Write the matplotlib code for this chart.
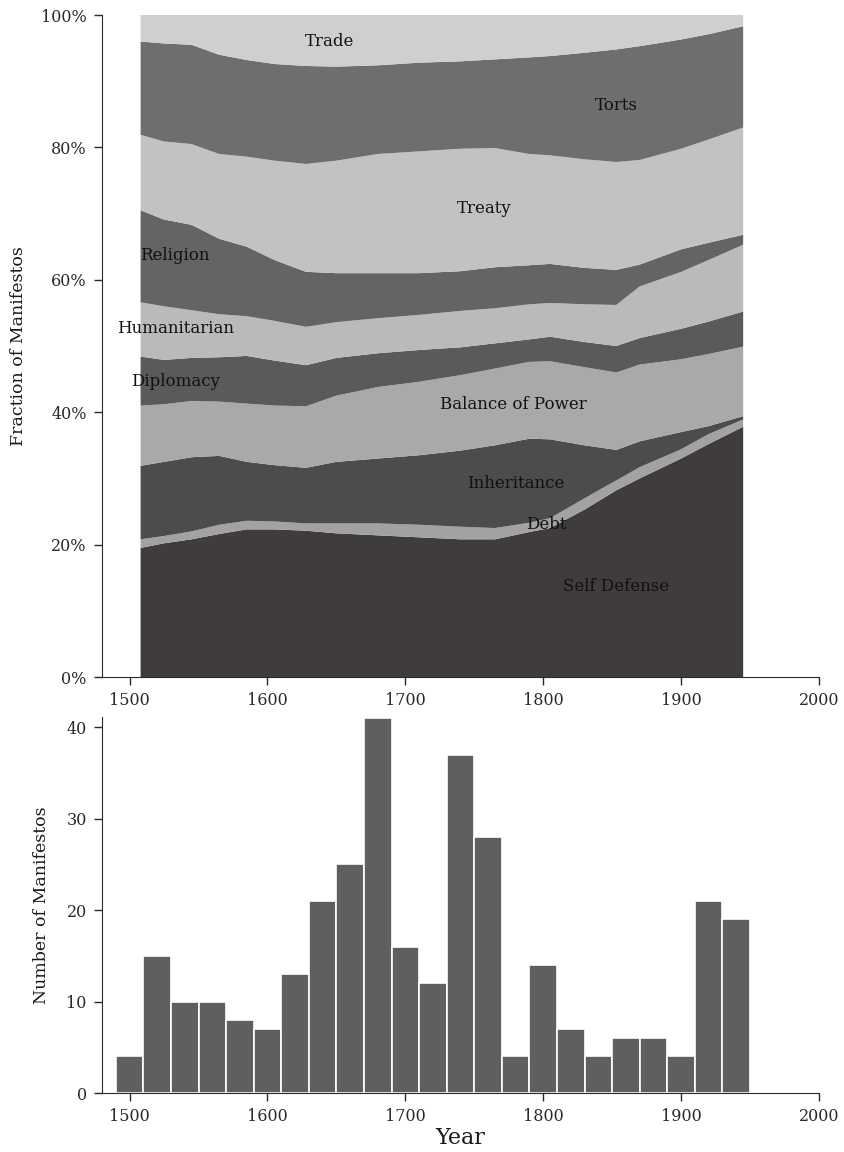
import numpy as np
import matplotlib.pyplot as plt
from matplotlib.ticker import FuncFormatter

plt.rcParams['font.family'] = ['DejaVu Serif']
plt.rcParams['axes.edgecolor'] = '#2a2a2a'
plt.rcParams['xtick.color'] = '#2a2a2a'
plt.rcParams['ytick.color'] = '#2a2a2a'
plt.rcParams['text.color'] = '#1a1a1a'
plt.rcParams['axes.labelcolor'] = '#1a1a1a'

# share of manifestos (%) by justification, smoothed over time
years = [1508, 1525, 1545, 1565, 1585, 1605, 1628, 1650, 1680, 1710,
         1740, 1765, 1790, 1805, 1830, 1853, 1870, 1900, 1920, 1945]

self_defense = [19.5, 20.2, 20.8, 21.6, 22.3, 22.3, 22.1, 21.7, 21.4, 21.1,
                20.8, 20.8, 21.9, 22.5, 25.3, 28.2, 30.0, 33.0, 35.2, 37.8]
debt = [1.3, 1.1, 1.2, 1.4, 1.3, 1.2, 1.1, 1.5, 1.8, 1.9,
        1.9, 1.7, 1.4, 1.5, 1.7, 1.5, 1.7, 1.4, 1.5, 1.1]
inheritance = [11.1, 11.2, 11.2, 10.4, 8.9, 8.5, 8.4, 9.3, 9.8, 10.5,
               11.5, 12.5, 12.7, 11.9, 8.0, 4.6, 3.9, 2.6, 1.2, 0.5]
balance_of_power = [9.1, 8.7, 8.5, 8.2, 8.8, 9.0, 9.3, 10.0, 10.8, 11.1,
                    11.4, 11.6, 11.6, 11.8, 11.8, 11.7, 11.6, 11.0, 10.9, 10.5]
diplomacy = [7.4, 6.7, 6.5, 6.7, 7.2, 6.8, 6.2, 5.7, 5.1, 4.8,
             4.2, 3.8, 3.4, 3.7, 3.8, 4.0, 4.0, 4.6, 4.9, 5.3]
humanitarian = [8.2, 8.1, 7.2, 6.5, 6.0, 6.0, 5.8, 5.4, 5.3, 5.3,
                5.5, 5.3, 5.3, 5.1, 5.7, 6.2, 7.8, 8.6, 9.3, 10.1]
religion = [13.9, 13.1, 12.9, 11.4, 10.5, 9.2, 8.3, 7.4, 6.8, 6.3,
            6.0, 6.2, 5.9, 5.9, 5.5, 5.3, 3.3, 3.4, 2.6, 1.5]
treaty = [11.4, 11.8, 12.2, 12.8, 13.6, 15.0, 16.3, 17.0, 18.0, 18.4,
          18.5, 18.0, 16.8, 16.4, 16.4, 16.3, 15.8, 15.2, 15.6, 16.2]
torts = [14.1, 14.8, 15.0, 15.0, 14.6, 14.6, 14.8, 14.2, 13.4, 13.4,
         13.2, 13.4, 14.6, 15.0, 16.1, 17.0, 17.2, 16.5, 15.9, 15.3]
trade = [4.0, 4.3, 4.5, 6.0, 6.8, 7.4, 7.7, 7.8, 7.6, 7.2,
         7.0, 6.7, 6.4, 6.2, 5.7, 5.2, 4.7, 3.7, 2.9, 1.7]

# manifesto counts in 20-year bins
bin_starts = [1490, 1510, 1530, 1550, 1570, 1590, 1610, 1630, 1650, 1670, 1690, 1710,
              1730, 1750, 1770, 1790, 1810, 1830, 1850, 1870, 1890, 1910, 1930]
counts = [4, 15, 10, 10, 8, 7, 13, 21, 25, 41, 16, 12,
          37, 28, 4, 14, 7, 4, 6, 6, 4, 21, 19]

layers = [self_defense, debt, inheritance, balance_of_power, diplomacy,
          humanitarian, religion, treaty, torts, trade]
colors = ['#403c3e', '#a2a2a2', '#4c4b4d', '#aaa8a9', '#5a595b',
          '#bababa', '#646366', '#c3c1c2', '#6e6e6e', '#cfcfcf']

labels = [('Self Defense', 1853, 13.7), ('Debt', 1802, 23.0),
          ('Inheritance', 1780, 29.2), ('Balance of Power', 1778, 41.2),
          ('Diplomacy', 1533, 44.7), ('Humanitarian', 1533, 52.6),
          ('Religion', 1533, 63.6), ('Treaty', 1757, 70.7),
          ('Torts', 1853, 86.3), ('Trade', 1645, 96.0)]

fig = plt.figure(figsize=(8.44, 11.52), dpi=100)

ax1 = fig.add_axes([102/844, 1 - 677/1152, 717/844, 662/1152])
ax1.stackplot(years, layers, colors=colors, linewidth=0)
for text, x, y in labels:
    ax1.text(x, y, text, ha='center', va='center', fontsize=12, color='#111111')
ax1.set_xlim(1480, 2000)
ax1.set_ylim(0, 100)
ax1.set_yticks(range(0, 101, 20))
ax1.yaxis.set_major_formatter(FuncFormatter(lambda v, p: '%d%%' % v))
ax1.set_xticks(range(1500, 2001, 100))
ax1.set_ylabel('Fraction of Manifestos', fontsize=12.5, labelpad=10)

ax2 = fig.add_axes([102/844, 1 - 1093/1152, 717/844, 376/1152])
ax2.bar(bin_starts, counts, width=20, align='edge', color='#5f5f62',
        edgecolor='white', linewidth=1.2)
ax2.set_xlim(1480, 2000)
ax2.set_ylim(0, 41.1)
ax2.set_yticks(range(0, 41, 10))
ax2.set_xticks(range(1500, 2001, 100))
ax2.set_ylabel('Number of Manifestos', fontsize=12.5, labelpad=12)
ax2.set_xlabel('Year', fontsize=16, labelpad=1)

for ax in (ax1, ax2):
    ax.spines['top'].set_visible(False)
    ax.spines['right'].set_visible(False)
    ax.tick_params(direction='out', length=6, width=1, labelsize=11.5, pad=5)

fig.savefig('out.png', dpi=100)
